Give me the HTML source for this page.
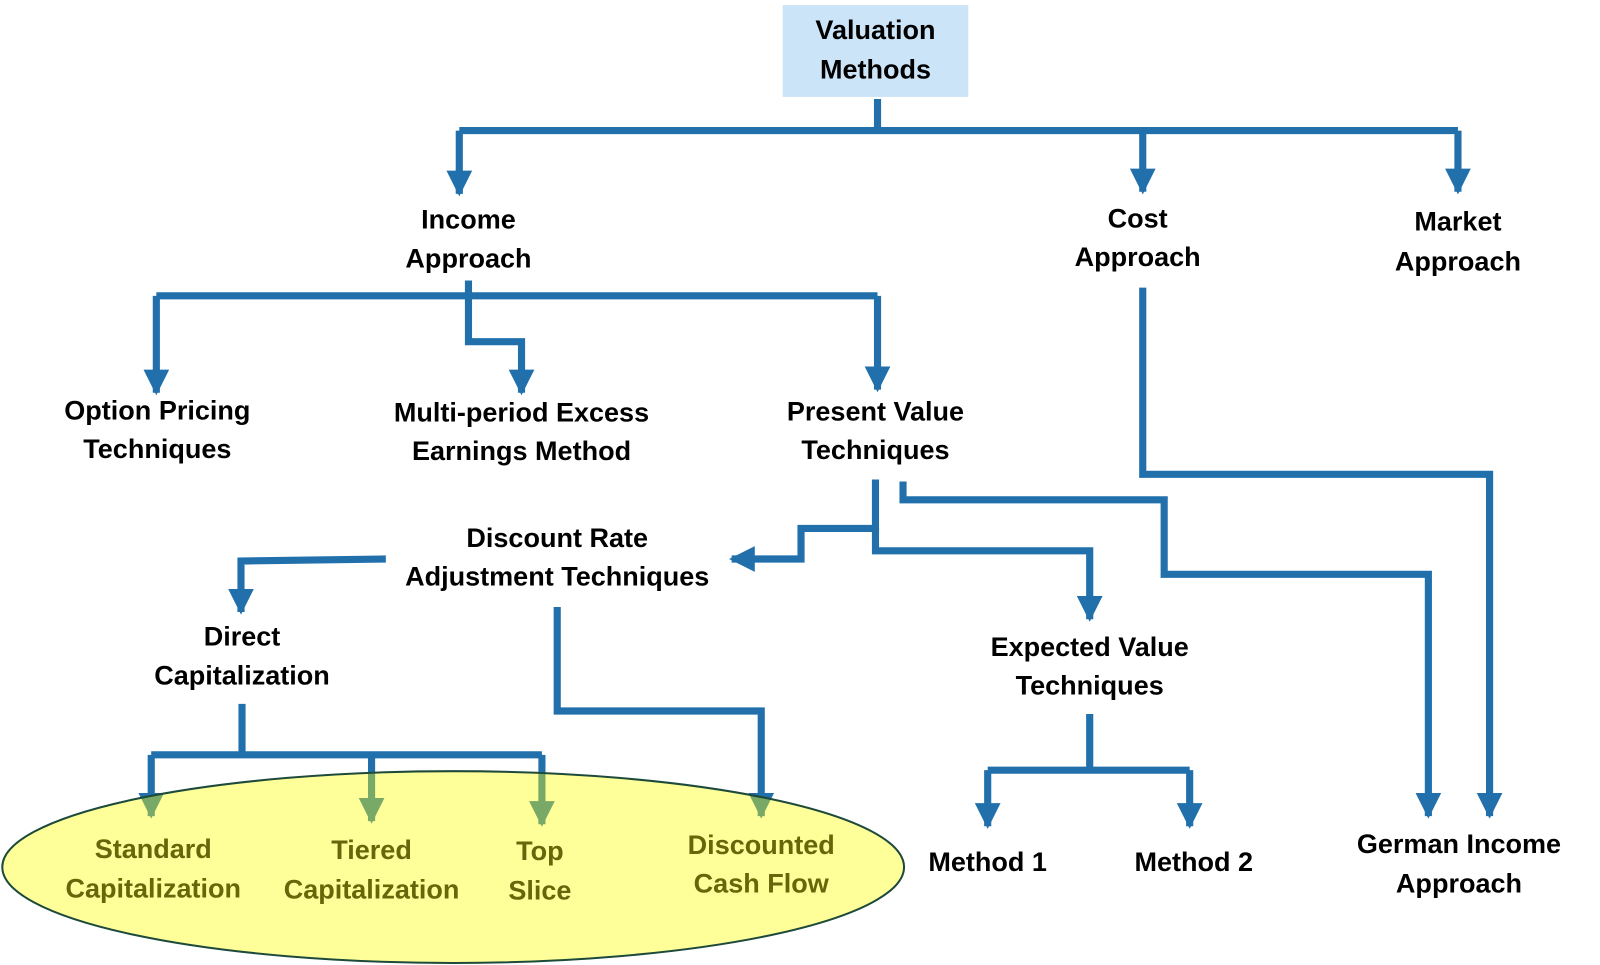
<!DOCTYPE html>
<html><head><meta charset="utf-8"><style>
html,body{margin:0;padding:0;background:#fff;}
svg{display:block;}
text{font-family:"Liberation Sans",sans-serif;font-weight:bold;font-size:26.5px;text-anchor:middle;dominant-baseline:middle;fill:#000;}
.o{fill:#66660a;}
</style></head><body>
<svg width="1600" height="965" viewBox="0 0 1568 946" xmlns="http://www.w3.org/2000/svg">
<defs>
<marker id="a" viewBox="0 0 10 10" refX="9" refY="5" markerWidth="3.6" markerHeight="3.6" orient="auto" markerUnits="strokeWidth"><path d="M0,0 L10,5 L0,10 z" fill="#2170ac"/></marker>
</defs>
<rect x="767" y="5" width="182" height="90" fill="#cce4f7"/>
<g fill="none" stroke="#2170ac" stroke-width="7">
<path d="M860 97V128"/>
<path d="M450 128H1429"/>
<path d="M450 128V190" marker-end="url(#a)"/>
<path d="M1120 128V188" marker-end="url(#a)"/>
<path d="M1429 128V188" marker-end="url(#a)"/>
<path d="M459 275V290"/>
<path d="M153 290H860"/>
<path d="M153 290V385" marker-end="url(#a)"/>
<path d="M860 290V382" marker-end="url(#a)"/>
<path d="M459 290V335H511V385" marker-end="url(#a)"/>
<path d="M1120 282V465H1460V800" marker-end="url(#a)"/>
<path d="M885 472V490H1141V563H1400V800" marker-end="url(#a)"/>
<path d="M858 470V518H785V548H717" marker-end="url(#a)"/>
<path d="M858 518V540H1068V607" marker-end="url(#a)"/>
<path d="M378 548L236 550V600" marker-end="url(#a)"/>
<path d="M546 595V697H746V800" marker-end="url(#a)"/>
<path d="M237 690V740"/>
<path d="M148 740H531"/>
<path d="M148 740V800" marker-end="url(#a)"/>
<path d="M364 740V805" marker-end="url(#a)"/>
<path d="M531 740V808" marker-end="url(#a)"/>
<path d="M1068 700V755"/>
<path d="M968 755H1166"/>
<path d="M968 755V810" marker-end="url(#a)"/>
<path d="M1166 755V810" marker-end="url(#a)"/>
</g>
<ellipse cx="444" cy="850" rx="442" ry="94" fill="#ffff00" fill-opacity="0.4" stroke="#1d4a3a" stroke-width="2"/>
<text x="858" y="31">Valuation</text><text x="858" y="70">Methods</text>
<text x="459" y="217">Income</text><text x="459" y="255">Approach</text>
<text x="1115" y="216">Cost</text><text x="1115" y="254">Approach</text>
<text x="1429" y="219">Market</text><text x="1429" y="258">Approach</text>
<text x="154" y="404">Option Pricing</text><text x="154" y="442">Techniques</text>
<text x="511" y="406">Multi-period Excess</text><text x="511" y="444">Earnings Method</text>
<text x="858" y="405">Present Value</text><text x="858" y="443">Techniques</text>
<text x="546" y="529">Discount Rate</text><text x="546" y="567">Adjustment Techniques</text>
<text x="237" y="626">Direct</text><text x="237" y="664">Capitalization</text>
<text x="1068" y="636">Expected Value</text><text x="1068" y="674">Techniques</text>
<text x="968" y="847">Method 1</text><text x="1170" y="847">Method 2</text>
<text x="1430" y="829">German Income</text><text x="1430" y="868">Approach</text>
<text class="o" x="150" y="834">Standard</text><text class="o" x="150" y="873">Capitalization</text>
<text class="o" x="364" y="835">Tiered</text><text class="o" x="364" y="874">Capitalization</text>
<text class="o" x="529" y="836">Top</text><text class="o" x="529" y="875">Slice</text>
<text class="o" x="746" y="830">Discounted</text><text class="o" x="746" y="868">Cash Flow</text>
</svg>
</body></html>
